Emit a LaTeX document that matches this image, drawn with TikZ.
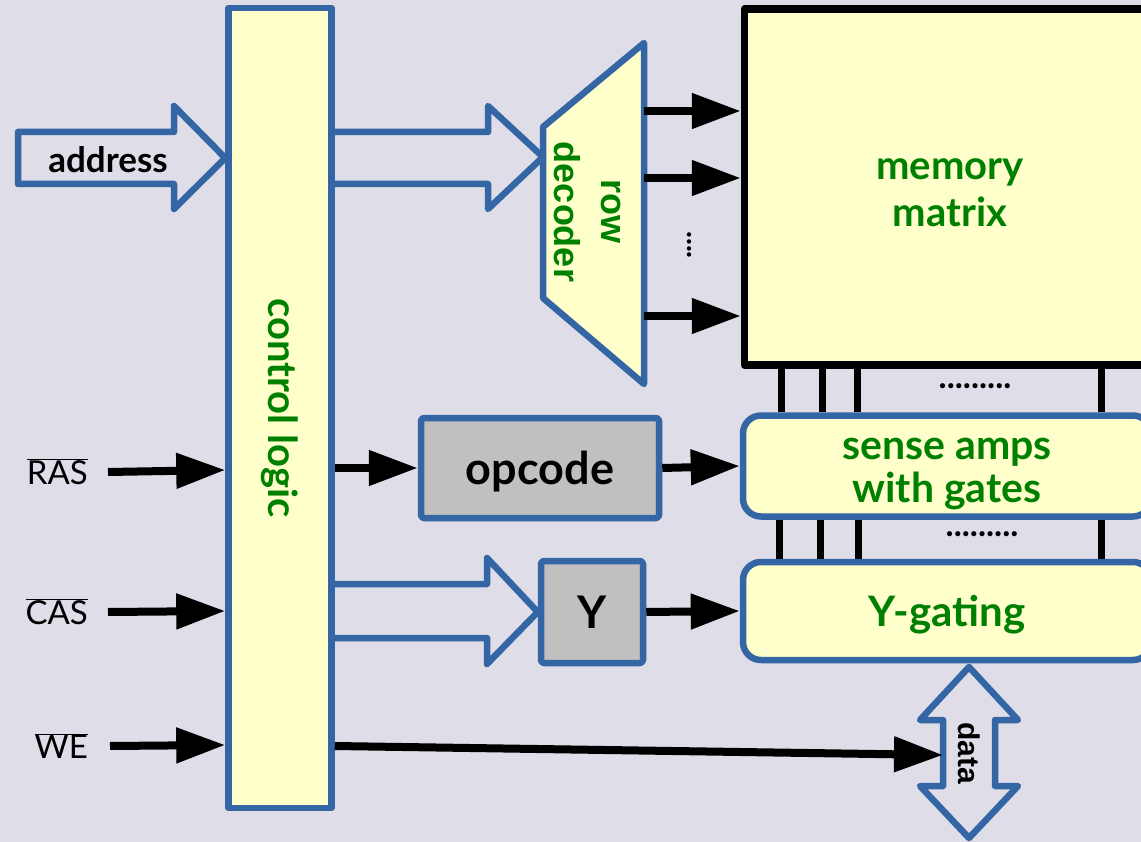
\documentclass[tikz,border=0pt]{standalone}
\usepackage{fontspec}
\setmainfont{Lato}
\newfontfamily\arialfont{Liberation Sans}
\usetikzlibrary{arrows.meta, calc, positioning}

\definecolor{bgcol}{RGB}{222,221,232}
\definecolor{boxblue}{RGB}{52,101,164}
\definecolor{paleyellow}{RGB}{255,255,204}
\definecolor{labgreen}{RGB}{0,128,0}
\definecolor{boxgray}{RGB}{192,192,192}

\begin{document}
\begin{tikzpicture}[x=1pt, y=-1pt, line join=round,
    block/.style={draw=boxblue, line width=6.5pt, fill=paleyellow, inner sep=0pt},
    graybox/.style={draw=boxblue, line width=6.5pt, fill=boxgray, rounded corners=3pt, inner sep=0pt,
        font=\bfseries\fontsize{45}{50}\selectfont},
    blockarr/.style={draw=boxblue, line width=6.5pt},
    greentxt/.style={text=labgreen, align=center, font=\bfseries\fontsize{40}{47}\selectfont},
    sig/.style={line width=8pt, -{Triangle[length=49pt, width=34pt]}},
    wire/.style={line width=7pt},
    siglbl/.style={anchor=east, inner sep=0pt, font=\fontsize{33}{36}\selectfont},
    dotlbl/.style={inner sep=0pt, font=\bfseries\fontsize{34}{34}\selectfont}]
    % Nền và khung
    \fill[bgcol] (0,0) rectangle (1141,842);
    \useasboundingbox (0,0) rectangle (1141,842);
    \clip (0,0) rectangle (1141,842);

    % Khối điều khiển
    \node[block, minimum width=103pt, minimum height=800pt] (ctrl) at (280,408) {};
    \node[greentxt, rotate=-90] (ctrltxt) at (ctrl.center) {control logic};

    % Ma trận nhớ, khuếch đại, cổng Y
    \node[block, draw=black, line width=7.5pt, minimum width=412pt, minimum height=356pt, greentxt] (mem) at (950.5,187) {};
    \node[greentxt] (memtxt) at (950,193) {memory\\matrix};
    \node[block, rounded corners=18pt, minimum width=408pt, minimum height=101pt] (sense) at (947,466) {};
    \node[greentxt, font=\bfseries\fontsize{41}{43}\selectfont] (sensetxt) at (947,474) {sense amps\\with gates};
    \node[block, rounded corners=18pt, minimum width=408pt, minimum height=98pt, greentxt,
        font=\bfseries\fontsize{42}{43}\selectfont, text depth=0pt] (ygate) at (947,611) {Y-gating};

    % Khối xám
    \node[graybox, minimum width=238pt, minimum height=100pt, text depth=0pt] (opcode) at (540,468) {opcode};
    \node[graybox, minimum width=102pt, minimum height=102pt] (ybox) at (592,612) {Y};

    % Bộ giải mã hàng
    \draw[block] (543,127) -- (644,43) -- (644,384) -- (543,298) -- cycle;
    \coordinate (decin) at (543,157);
    \coordinate (decout) at (644,212);
    \node[text=labgreen, align=center, rotate=-90, font=\arialfont\bfseries\fontsize{36}{47}\selectfont] (rowdec) at (588,212) {row\\decoder};
    \foreach \y in {111,178,316}
        \draw[sig] (decout |- 0,\y) -- (mem.west |- 0,\y);
    \node[dotlbl, rotate=-90, font=\bfseries\fontsize{29}{29}\selectfont] (rowdots) at (689,245) {....};

    % Mũi tên khối
    \node[inner sep=0pt, font=\bfseries\fontsize{35}{38}\selectfont] (addr) at (108,160) {address};
    \draw[blockarr] (18,132) -- (174,132) -- (174,106) -- (ctrl.west |- 0,158) -- (174,209) -- (174,184) -- (18,184) -- cycle;
    \draw[blockarr] (ctrl.east |- 0,132) -- (488,132) -- (488,106) -- (decin) -- (488,209) -- (488,184) -- (ctrl.east |- 0,184);
    \draw[blockarr] (ctrl.east |- 0,584) -- (487,584) -- (487,558) -- (ybox.west) -- (487,664) -- (487,638) -- (ctrl.east |- 0,638);
    \draw[blockarr] (969,667) -- (1018,720) -- (995,720) -- (995,786) -- (1018,786) -- (969,838)
        -- (920,786) -- (943,786) -- (943,720) -- (920,720) -- cycle;
    \node[rotate=-90, inner sep=0pt, font=\arialfont\bfseries\fontsize{30}{34}\selectfont] (datatxt) at (969,753) {data};
    \coordinate (datain) at (943,755);

    % Dây nối giữa các khối
    \foreach \x in {781,822,857,1101}
        \draw[wire] (mem.south -| \x,0) -- (sense.north -| \x,0);
    \foreach \x in {779,820,858,1101}
        \draw[wire] (sense.south -| \x,0) -- (ygate.north -| \x,0);
    \node[dotlbl] (dotsa) at (975,386) {.........};
    \node[dotlbl] (dotsb) at (982,534) {.........};

    % Tín hiệu điều khiển
    \node[siglbl] (ras) at (88,472) {$\overline{\mbox{RAS}}$};
    \node[siglbl] (cas) at (88,612) {$\overline{\mbox{CAS}}$};
    \node[siglbl] (we) at (88,746) {$\overline{\mbox{WE}}$};
    \draw[sig] ([xshift=20pt]ras.east) -- (ctrl.west |- 0,470);
    \draw[sig] ([xshift=20pt]cas.east) -- (ctrl.west |- 0,611);
    \draw[sig] ([xshift=22pt]we.east) -- (ctrl.west |- 0,745);
    \draw[sig] (ctrl.east |- opcode.west) -- (opcode.west);
    \draw[sig] (opcode.east) -- (sense.west);
    \draw[sig] (ybox.east) -- (ygate.west);
    \draw[sig] (ctrl.east |- 0,746) -- (datain);
\end{tikzpicture}
\end{document}
